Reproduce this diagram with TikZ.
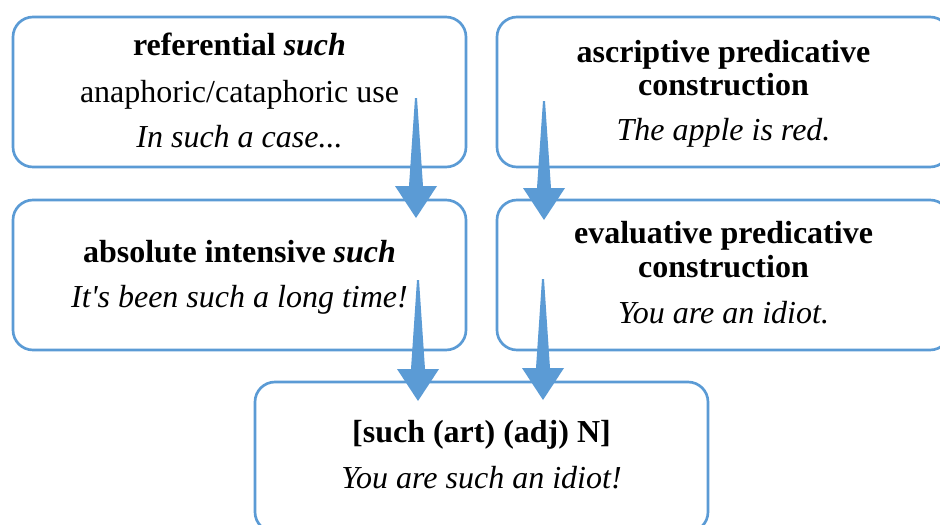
\documentclass[tikz,border=0pt]{standalone}
\usepackage{fontspec}
\setmainfont{Liberation Serif}[Ligatures=TeXOff]
\usetikzlibrary{calc}
\definecolor{boxblue}{HTML}{5B9BD5}
\tikzset{
  box/.style={rectangle, rounded corners=15pt, draw=boxblue, line width=2pt, fill=white,
    minimum width=339.75pt, minimum height=112.5pt, inner sep=0pt, outer sep=0pt},
  txt/.style={anchor=base, inner sep=0pt, font=\fontsize{24}{29}\selectfont},
  arrowfill/.style={fill=boxblue}
}
\newcommand\blockarrow[2]{%
  \fill[arrowfill] ($(#1)+(-1,0)$) -- ($(#1)+(1,0)$) -- ($(#2)+(7,-32)$) -- ($(#2)+(21,-32)$)
    -- (#2) -- ($(#2)+(-21,-32)$) -- ($(#2)+(-7,-32)$) -- cycle;}
\begin{document}
\begin{tikzpicture}[x=0.75pt,y=-0.75pt]
\useasboundingbox (0,0) rectangle (940,525);
\clip (0,0) rectangle (940,525);
\fill[white] (0,0) rectangle (940,525);
% boxes
\node[box] (tl) at (239.5,92) {};
\node[box] (tr) at (723.5,92) {};
\node[box] (ml) at (239.5,275) {};
\node[box] (mr) at (723.5,275) {};
\node[box] (bt) at (481.5,457) {};
% texts
\node[txt] (tl1) at (239.5,55) {\textbf{referential \textit{such}}};
\node[txt] (tl2) at (239.5,102) {anaphoric/cataphoric use};
\node[txt] (tl3) at (239.5,147) {\textit{In such a case...}};
\node[txt] (tr1) at (723.5,62) {\textbf{ascriptive predicative}};
\node[txt] (tr2) at (723.5,95) {\textbf{construction}};
\node[txt] (tr3) at (723.5,140) {\textit{The apple is red.}};
\node[txt] (ml1) at (239.5,262) {\textbf{absolute intensive \textit{such}}};
\node[txt] (ml2) at (239.5,307) {\textit{It's been such a long time!}};
\node[txt] (mr1) at (723.5,243) {\textbf{evaluative predicative}};
\node[txt] (mr2) at (723.5,277) {\textbf{construction}};
\node[txt] (mr3) at (723.5,323) {\textit{You are an idiot.}};
\node[txt] (bt1) at (481.5,442) {\textbf{[such (art) (adj) N]}};
\node[txt] (bt2) at (481.5,488) {\textit{You are such an idiot!}};
% arrows
\coordinate (a1s) at (416,98);  \coordinate (a1e) at (416,218);
\coordinate (a2s) at (544,101); \coordinate (a2e) at (544,220);
\coordinate (a3s) at (418,280); \coordinate (a3e) at (418,401);
\coordinate (a4s) at (543,279); \coordinate (a4e) at (543,400);
\blockarrow{a1s}{a1e}
\blockarrow{a2s}{a2e}
\blockarrow{a3s}{a3e}
\blockarrow{a4s}{a4e}
\end{tikzpicture}
\end{document}
